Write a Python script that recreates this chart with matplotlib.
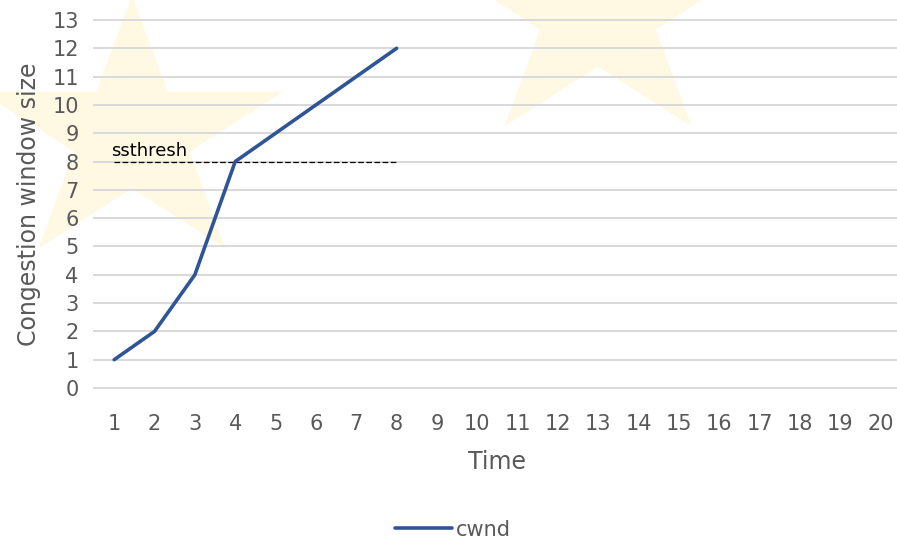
import matplotlib.pyplot as plt
from matplotlib.patches import Polygon
import numpy as np

# cwnd growth: slow start up to ssthresh, then linear increase
time = [1, 2, 3, 4, 5, 6, 7, 8]
cwnd = [1, 2, 4, 8, 9, 10, 11, 12]
ssthresh = 8
ssthresh_span = [1, 8]
xticks = list(range(1, 21))
yticks = list(range(0, 14))

grey = '#595959'
blue = '#2F5597'

fig = plt.figure(figsize=(8.97, 5.38), dpi=100)
W, H = 897, 538

# background layer in pixel coords for the pale watermark stars
bg = fig.add_axes([0, 0, 1, 1], zorder=-1)
bg.set_xlim(0, W)
bg.set_ylim(H, 0)
bg.axis('off')

def star(cx, cy, rx, ry, inner=0.382):
    pts = []
    for k in range(10):
        a = np.deg2rad(90 + 36 * k)
        f = 1.0 if k % 2 == 0 else inner
        pts.append((cx + f * rx * np.cos(a), cy - f * ry * np.sin(a)))
    return pts

for cx, cy in [(132, 135), (598, 13)]:
    bg.add_patch(Polygon(star(cx, cy, 159, 140), closed=True,
                         facecolor='#FFF8E3', edgecolor='none'))

ax = fig.add_axes([94 / W, 1 - 388 / H, (901 - 94) / W, (388 - 20) / H], zorder=1)
ax.set_facecolor('none')

ax.plot(time, cwnd, color=blue, linewidth=2.6, label='cwnd', zorder=3,
        solid_joinstyle='round', solid_capstyle='round')
ax.plot(ssthresh_span, [ssthresh, ssthresh], color='black', linewidth=0.9,
        linestyle=(0, (4.5, 2)), zorder=2)
ax.text(0.93, 8.2, 'ssthresh', fontsize=13, color='black')

ax.set_xlim(0.5, 20.5)
ax.set_ylim(0, 13)
ax.set_xticks(xticks)
ax.set_yticks(yticks)
ax.grid(axis='y', color='#D9D9D9', linewidth=1.4)
for gl in ax.get_ygridlines():
    gl.set_clip_on(False)
ax.set_axisbelow(True)
for s in ax.spines.values():
    s.set_visible(False)
ax.tick_params(length=0, labelsize=15, labelcolor=grey)
ax.tick_params(axis='x', pad=19)
ax.tick_params(axis='y', pad=11)

ax.set_xlabel('Time', fontsize=17, color=grey, labelpad=11)
ax.set_ylabel('Congestion window size', fontsize=17, color=grey, labelpad=8)

fig.legend(loc='lower center', bbox_to_anchor=(0.505, -0.038), frameon=False,
           fontsize=15, handlelength=2.7, handletextpad=0.2, labelcolor=grey)

plt.savefig('out.png')
plt.close()
